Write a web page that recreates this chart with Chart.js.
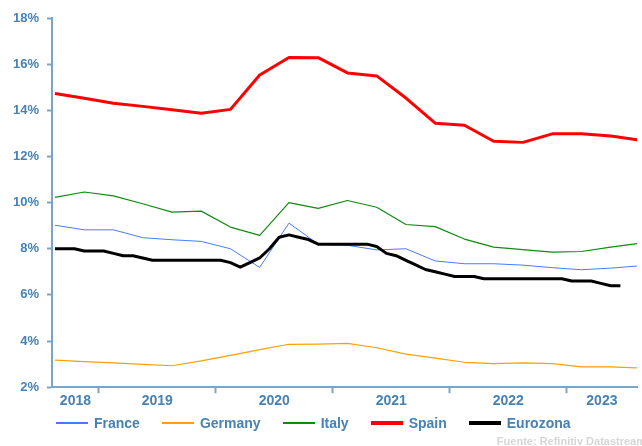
<!DOCTYPE html>
<html>
<head>
<meta charset="utf-8">
<script src="https://cdn.jsdelivr.net/npm/chart.js@4.4.0/dist/chart.umd.min.js"></script>
<style>
  body { margin: 0; background: #fff; }
  #wrap { width: 642px; height: 446px; position: relative; }
  #legend {
    position: absolute; left: 56px; top: 414px; height: 18px;
    display: flex; align-items: center;
    font: bold 14px "Liberation Sans", Arial, sans-serif; color: #4682b4;
  }
  .item { display: flex; align-items: center; margin-right: 22px; }
  .swatch { width: 32px; margin-right: 6px; }
</style>
</head>
<body>
<div id="wrap"><canvas id="chart"></canvas><div id="legend"></div></div>
<script>
// quarterly series, plotted mid-quarter
const quarters = ['2018-08', '2018-11', '2019-02', '2019-05', '2019-08', '2019-11', '2020-02', '2020-05',
  '2020-08', '2020-11', '2021-02', '2021-05', '2021-08', '2021-11', '2022-02', '2022-05', '2022-08',
  '2022-11', '2023-02', '2023-05', '2023-08'];

const france = [9.02, 8.82, 8.82, 8.48, 8.39, 8.32, 8.00, 7.19, 9.11, 8.20, 8.15, 7.95, 8.00, 7.47,
  7.35, 7.35, 7.29, 7.18, 7.09, 7.16, 7.26];
const germany = [3.17, 3.11, 3.05, 2.99, 2.93, 3.14, 3.38, 3.63, 3.86, 3.87, 3.90, 3.71, 3.43, 3.26,
  3.08, 3.02, 3.05, 3.02, 2.88, 2.88, 2.83];
const italy = [10.23, 10.46, 10.29, 9.95, 9.59, 9.63, 8.94, 8.58, 10.00, 9.75, 10.09, 9.80, 9.05, 8.96,
  8.42, 8.07, 7.96, 7.85, 7.88, 8.07, 8.24];
const spain = [14.73, 14.52, 14.31, 14.17, 14.02, 13.87, 14.04, 15.53, 16.29, 16.28, 15.62, 15.49, 14.53,
  13.44, 13.35, 12.66, 12.61, 12.98, 12.98, 12.89, 12.71];

// monthly eurozone series, Aug 2018 .. Jun 2023
const euroStart = '2018-08';
const eurozona = [
  8.0, 8.0, 8.0, 7.9, 7.9,
  7.9, 7.8, 7.7, 7.7, 7.6, 7.5, 7.5, 7.5, 7.5, 7.5, 7.5, 7.5,
  7.5, 7.4, 7.2, 7.4, 7.6, 8.0, 8.5, 8.6, 8.5, 8.4, 8.2, 8.2,
  8.2, 8.2, 8.2, 8.2, 8.1, 7.8, 7.7, 7.5, 7.3, 7.1, 7.0, 6.9,
  6.8, 6.8, 6.8, 6.7, 6.7, 6.7, 6.7, 6.7, 6.7, 6.7, 6.7, 6.7,
  6.6, 6.6, 6.6, 6.5, 6.4, 6.4
];

const yearLabels = ['2018', '2019', '2020', '2021', '2022', '2023'];
const yTicks = [2, 4, 6, 8, 10, 12, 14, 16, 18];

const xMin = 2018.6, xMax = 2023.6;
const axisColor = '#79a6c6';
const textColor = '#4682b4';
const fontFamily = '"Liberation Sans", Arial, sans-serif';

function toYear(ym) {
  const parts = ym.split('-');
  return parseInt(parts[0]) + (parseInt(parts[1]) - 0.5) / 12;
}

function quarterPoints(values) {
  return values.map((v, i) => ({ x: toYear(quarters[i]), y: v }));
}

const euroX0 = toYear(euroStart);
const euroPoints = eurozona.map((v, i) => ({ x: euroX0 + i / 12, y: v }));

// tick marks at year boundaries, labels centred in each visible year
let xTickValues = [];
yearLabels.forEach((y, i) => {
  const start = Math.max(parseInt(y), xMin);
  const end = Math.min(parseInt(y) + 1, xMax);
  if (i > 0) xTickValues.push(parseInt(y));
  xTickValues.push((start + end) / 2);
});

const sourceNote = {
  id: 'sourceNote',
  afterDraw(chart) {
    const ctx = chart.ctx;
    ctx.save();
    ctx.font = 'bold 11px ' + fontFamily;
    ctx.fillStyle = '#d6d6d6';
    ctx.textAlign = 'right';
    ctx.textBaseline = 'middle';
    ctx.fillText('Fuente: Refinitiv Datastream', chart.width + 4, 442);
    ctx.restore();
  }
};

const chart = new Chart(document.getElementById('chart'), {
  type: 'line',
  data: {
    datasets: [
      { label: 'France', data: quarterPoints(france), borderColor: '#4a7bff', borderWidth: 1, order: 4 },
      { label: 'Germany', data: quarterPoints(germany), borderColor: '#ffa000', borderWidth: 1.2, order: 3 },
      { label: 'Italy', data: quarterPoints(italy), borderColor: '#118a11', borderWidth: 1.2, order: 2 },
      { label: 'Spain', data: quarterPoints(spain), borderColor: '#ff0000', borderWidth: 3, order: 1 },
      { label: 'Eurozona', data: euroPoints, borderColor: '#000000', borderWidth: 3, order: 0 }
    ]
  },
  options: {
    responsive: true,
    maintainAspectRatio: false,
    animation: false,
    elements: { point: { radius: 0 }, line: { tension: 0, borderJoinStyle: 'round' } },
    layout: { padding: { left: 5, right: 5, top: 18, bottom: 36 } },
    plugins: {
      tooltip: { enabled: false },
      legend: { display: false }
    },
    scales: {
      x: {
        type: 'linear',
        min: xMin,
        max: xMax,
        afterBuildTicks(scale) {
          scale.ticks = xTickValues.map(v => ({ value: v }));
        },
        ticks: {
          autoSkip: false,
          maxRotation: 0,
          padding: 0,
          color: textColor,
          font: { family: fontFamily, size: 14, weight: 'bold' },
          callback: (v) => Number.isInteger(v) ? '' : String(Math.floor(v))
        },
        grid: {
          drawOnChartArea: false,
          tickLength: 6,
          tickWidth: 2,
          tickColor: (c) => (c.tick && Number.isInteger(c.tick.value)) ? axisColor : 'rgba(0,0,0,0)'
        },
        border: { color: axisColor, width: 2 }
      },
      y: {
        min: 2,
        max: 18,
        afterBuildTicks(scale) {
          scale.ticks = yTicks.map(v => ({ value: v }));
        },
        ticks: {
          padding: 8,
          color: textColor,
          font: { family: fontFamily, size: 13, weight: 'bold' },
          callback: (v) => v + '%'
        },
        grid: { drawOnChartArea: false, tickLength: 5, tickWidth: 2, tickColor: axisColor },
        border: { color: axisColor, width: 2 }
      }
    }
  },
  plugins: [sourceNote]
});

// legend: line swatches built from the datasets
const legendEl = document.getElementById('legend');
chart.data.datasets.forEach(ds => {
  const item = document.createElement('span');
  item.className = 'item';
  const sw = document.createElement('span');
  sw.className = 'swatch';
  sw.style.height = (ds.borderWidth > 2 ? 3.5 : 1.5) + 'px';
  sw.style.background = ds.borderColor;
  item.appendChild(sw);
  item.appendChild(document.createTextNode(ds.label));
  legendEl.appendChild(item);
});
</script>
</body>
</html>
